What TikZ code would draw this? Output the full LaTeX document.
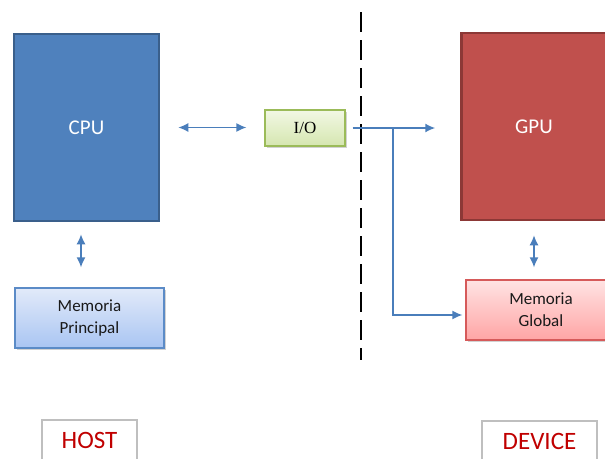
\documentclass[tikz,border=0pt]{standalone}
\usepackage{fontspec}
\setmainfont{Carlito}
\newfontfamily\ioserif{Liberation Serif}
\usetikzlibrary{arrows.meta,shadows}
\definecolor{cpufill}{HTML}{4F81BD}
\definecolor{cpuedge}{HTML}{3A5F8B}
\definecolor{gpufill}{HTML}{C0504D}
\definecolor{gpuedge}{HTML}{8C3836}
\definecolor{arrowc}{HTML}{4A7EBB}
\definecolor{iotop}{HTML}{F2F8E4}
\definecolor{iobot}{HTML}{D5E6B0}
\definecolor{ioedge}{HTML}{9BBB59}
\definecolor{mptop}{HTML}{E2EAF9}
\definecolor{mpbot}{HTML}{A9C5F3}
\definecolor{mpedge}{HTML}{5B8BC7}
\definecolor{mgtop}{HTML}{FFE3E3}
\definecolor{mgbot}{HTML}{FFA5A5}
\definecolor{mgedge}{HTML}{D65A5A}
\definecolor{labred}{HTML}{C00000}
\definecolor{labedge}{HTML}{BFBFBF}
\tikzset{
  procbox/.style={draw, line width=2.5pt, minimum width=145pt, minimum height=187pt,
    text=white, font=\fontsize{21}{24}\selectfont},
  membox/.style={draw, line width=1.2pt, align=center, text=black!90,
    font=\fontsize{17}{22}\selectfont,
    drop shadow={opacity=0.35, shadow xshift=1.5pt, shadow yshift=-2pt}},
  labbox/.style={draw=labedge, line width=1.3pt, text=labred, minimum height=40pt,
    font=\fontsize{25}{28}\selectfont},
  link/.style={draw=arrowc, line width=1.6pt},
  biarrow/.style={link, {Latex[length=10pt,width=9pt]}-{Latex[length=10pt,width=9pt]}},
  onearrow/.style={link, -{Latex[length=10pt,width=9pt]}}
}
\begin{document}
\begin{tikzpicture}[x=1pt,y=-1pt]
\clip (0,0) rectangle (605,458);
\fill[white] (0,0) rectangle (605,458);

\node[procbox, fill=cpufill, draw=cpuedge] (cpu) at (86.5,127.5) {CPU};
\node[procbox, fill=gpufill, draw=gpuedge] (gpu) at (534,126.5) {GPU};

\node[draw=ioedge, line width=1.2pt, top color=iotop, bottom color=iobot,
  minimum width=80pt, minimum height=36pt,
  drop shadow={opacity=0.35, shadow xshift=1.5pt, shadow yshift=-2pt},
  font=\ioserif\fontsize{17}{20}\selectfont] (io) at (305,128) {I/O};

\node[membox, draw=mpedge, top color=mptop, bottom color=mpbot,
  minimum width=149pt, minimum height=60pt] (memp) at (89.5,318) {Memoria\\Principal};
\node[membox, draw=mgedge, top color=mgtop, bottom color=mgbot,
  minimum width=150pt, minimum height=60pt] (memg) at (541,310) {Memoria\\Global};

\node[labbox, minimum width=95pt] (host) at (89.5,440) {HOST};
\node[labbox, minimum width=115pt] (device) at (539.5,441) {DEVICE};

% divider
\draw[black, line width=2.8pt, dash pattern=on 20pt off 8pt] (361,12) -- (361,360);

% connectors
\draw[biarrow, shorten <=18pt, shorten >=18pt] (cpu.east) -- (cpu.east -| io.west);
\draw[biarrow, shorten <=12pt, shorten >=20pt] ([xshift=-5.5pt]cpu.south) -- ([xshift=-5.5pt]cpu.south |- memp.north);
\draw[biarrow, shorten <=14pt, shorten >=12pt] (gpu.south) -- (gpu.south |- memg.north);
\draw[onearrow, shorten <=7pt, shorten >=25pt] (io.east) -- (io.east -| gpu.west);
\coordinate (br) at (393,128);
\draw[onearrow, shorten >=3pt] (br) |- ([yshift=-5pt]memg.west);
\end{tikzpicture}
\end{document}
